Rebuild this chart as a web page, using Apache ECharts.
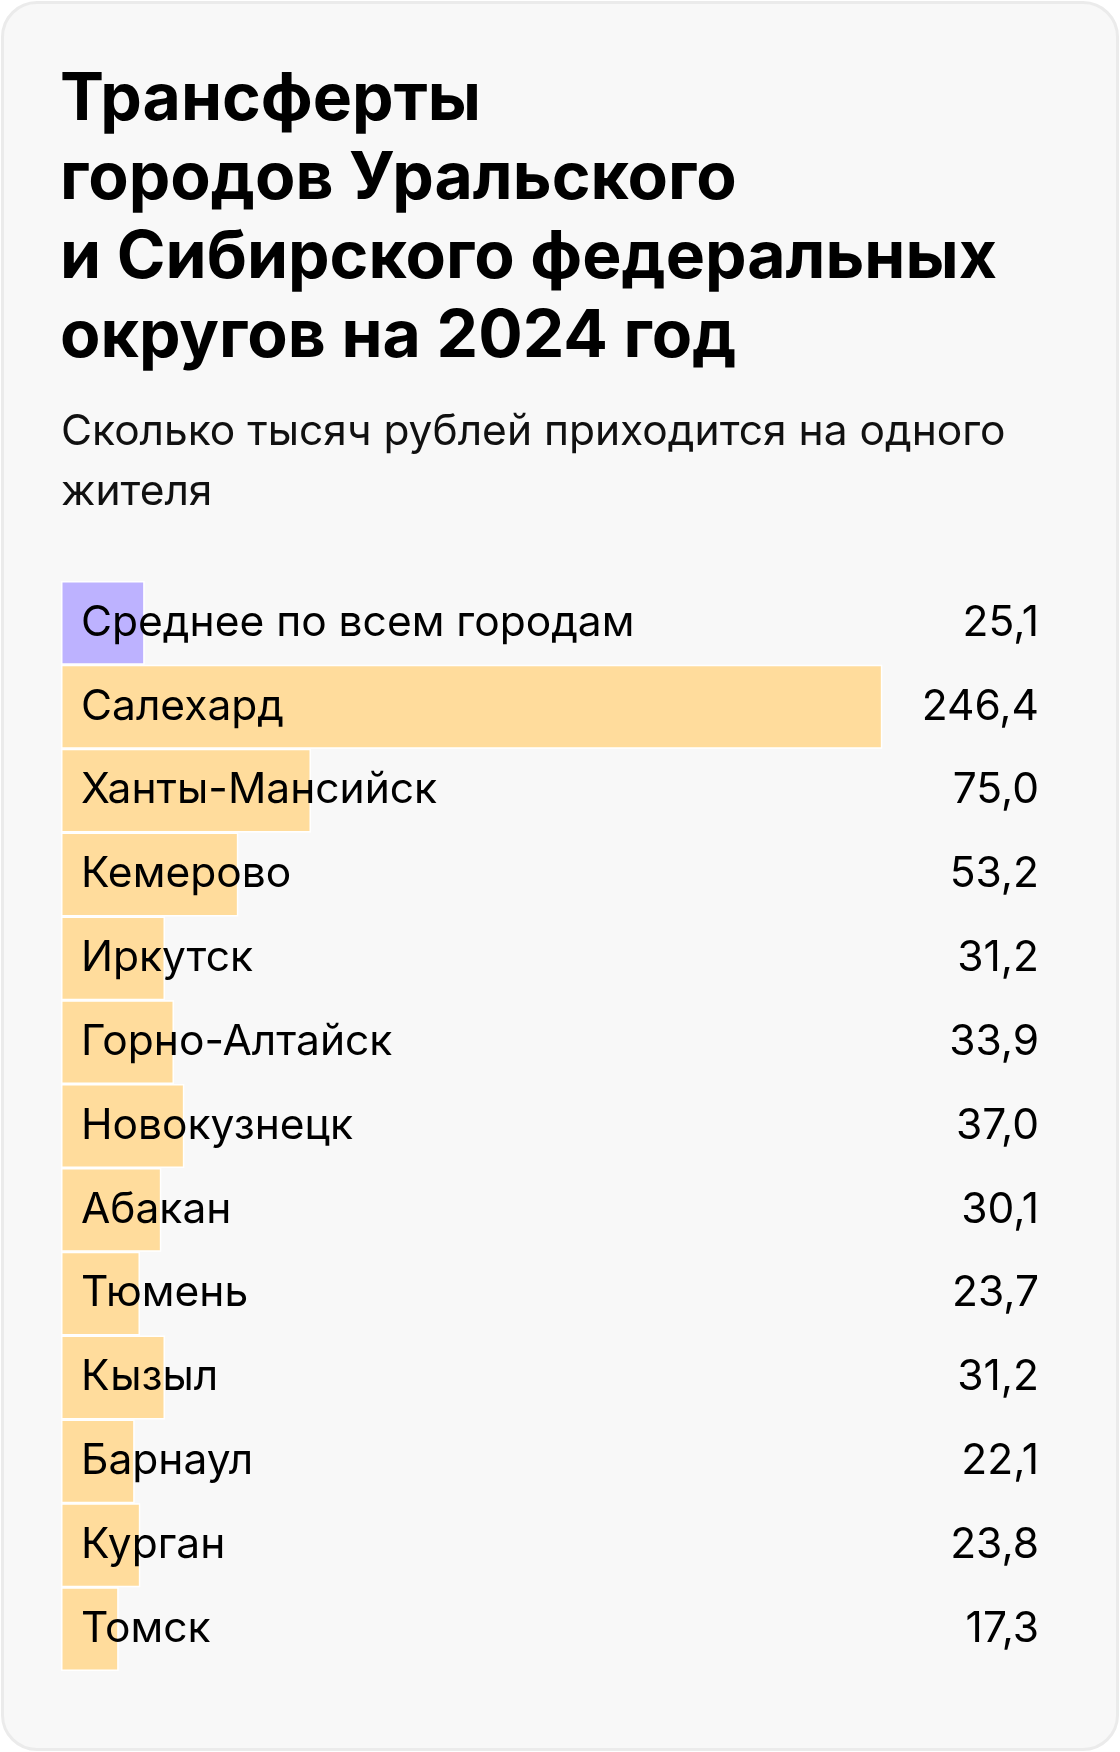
<!DOCTYPE html>
<html><head><meta charset="utf-8">
<script src="https://cdn.jsdelivr.net/npm/echarts@6/dist/echarts.min.js"></script>
<style>
html,body{margin:0;padding:0;background:#ffffff;}
#card{position:absolute;left:1px;top:1px;width:1112px;height:1744px;border:3px solid #ebebeb;border-radius:36px;background:#f8f8f8;}
#chart{position:absolute;left:0;top:0;width:1120px;height:1752px;}
</style></head>
<body>
<div id="card"></div>
<div id="chart"></div>
<script>
const titleText = "Трансферты\nгородов Уральского\nи Сибирского федеральных\nокругов на 2024 год";
const subtitleText = "Сколько тысяч рублей приходится на одного\nжителя";
const categories = ["Среднее по всем городам","Салехард","Ханты-Мансийск","Кемерово","Иркутск","Горно-Алтайск","Новокузнецк","Абакан","Тюмень","Кызыл","Барнаул","Курган","Томск"];
const values = [25.1,246.4,75.0,53.2,31.2,33.9,37.0,30.1,23.7,31.2,22.1,23.8,17.3];
const highlightIndex = 0;

const FONT = "Inter";
const fmt = v => v.toFixed(1).replace('.', ',');
const chart = echarts.init(document.getElementById('chart'), null, {renderer:'canvas'});
chart.setOption({
  animation:false,
  textStyle:{fontFamily:FONT},
  title:[
    {text:titleText,left:55,top:56,textStyle:{fontFamily:FONT,fontSize:66,fontWeight:'bold',lineHeight:79,color:'#000'}},
    {text:subtitleText,left:56,top:397,textStyle:{fontFamily:FONT,fontSize:42.5,fontWeight:'normal',lineHeight:60,color:'#111'}}
  ],
  grid:{left:61,top:581,width:1000,height:1090,containLabel:false},
  xAxis:{type:'value',min:0,max:300,show:false},
  yAxis:[
    {type:'category',data:categories,inverse:true,position:'left',
     axisLine:{show:false},axisTick:{show:false},splitLine:{show:false},
     axisLabel:{inside:true,margin:20,align:'left',fontSize:42.5,color:'#000',fontFamily:FONT},z:10},
    {type:'category',data:categories,inverse:true,position:'right',
     axisLine:{show:false},axisTick:{show:false},splitLine:{show:false},
     axisLabel:{inside:true,margin:22,align:'right',fontSize:42.5,color:'#000',fontFamily:FONT,
       formatter:(v,i)=>fmt(values[i])},z:10}
  ],
  series:[{type:'bar',yAxisIndex:0,barCategoryGap:0,
    data:values.map((v,i)=>({value:v,itemStyle:{color:i===highlightIndex?'#bdb2ff':'#ffdc9c'}})),
    itemStyle:{borderColor:'#ffffff',borderWidth:1.5}
  }]
});
</script>
</body></html>
